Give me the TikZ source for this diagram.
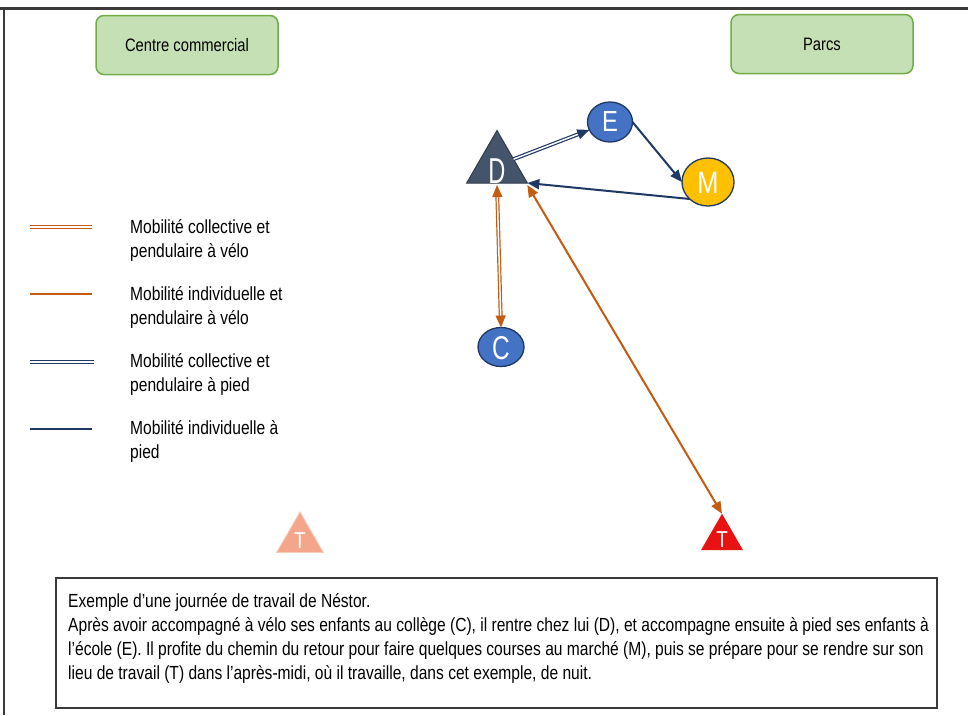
\documentclass[tikz,border=0pt]{standalone}
\usepackage{fontspec}
\usepackage{graphicx}
\setmainfont{Liberation Sans}[FakeStretch=0.82]
\usetikzlibrary{shapes.geometric,arrows.meta}
\definecolor{orng}{HTML}{C55A11}
\definecolor{navy}{HTML}{203864}
\definecolor{slate}{HTML}{44546A}
\definecolor{blu}{HTML}{4472C4}
\definecolor{gold}{HTML}{FFC000}
\definecolor{grnfill}{HTML}{C5E0B4}
\definecolor{grnline}{HTML}{70AD47}
\definecolor{tred}{HTML}{E81212}
\definecolor{salmon}{HTML}{F4A68B}
\definecolor{frame}{HTML}{3A3A3A}
\begin{document}
\begin{tikzpicture}[x=1pt,y=-1pt,
  txt/.style={font=\fontsize{19}{24}\selectfont, inner sep=0pt, align=left},
  place/.style={draw=grnline, line width=1.5pt, fill=grnfill, rounded corners=8pt, minimum width=182pt, minimum height=59pt, font=\fontsize{18}{24}\selectfont},
  tri/.style={regular polygon, regular polygon sides=3, inner sep=0pt, outer sep=0pt},
  circ/.style={ellipse, draw=navy, line width=1.3pt, inner sep=0pt, outer sep=0pt},
  lett/.style={text=white, font=\fontsize{29}{29}\selectfont, inner sep=0pt},
  tip/.style={-{Triangle[length=12pt,width=10pt]}},
  ttip/.style={{Triangle[length=12pt,width=10pt]}-{Triangle[length=12pt,width=10pt]}},
  dblorng/.style={draw=orng, double=white, double distance=1.5pt, line width=1.2pt},
  snglorng/.style={draw=orng, line width=2pt},
  dblnavy/.style={draw=navy, double=white, double distance=1.5pt, line width=1.2pt},
  snglnavy/.style={draw=navy, line width=2pt}]
\useasboundingbox (0,0) rectangle (968,715);
\fill[white] (0,0) rectangle (968,715);
% frame
\draw[frame, line width=3pt] (0,8) -- (968,8);
\draw[frame, line width=2pt] (4,8) -- (4,715);
% places
\node[place] (cc) at (187,45) {Centre commercial};
\node[place] (parcs) at (822,44) {Parcs};
% nodes
\node[tri, fill=slate, draw=slate!70!black, line width=1pt, minimum size=70pt] (D) at (497,165.5) {};
\node[lett, font=\fontsize{36}{36}\selectfont] (Dl) at (497,171) {\scalebox{0.8}[1]{D}};
\node[circ, fill=blu, minimum width=45pt, minimum height=40pt] (E) at (610,122) {};
\node[lett] (El) at (610,122) {E};
\node[circ, fill=gold, minimum width=52pt, minimum height=48pt] (M) at (708,182) {};
\node[lett, font=\fontsize{31}{31}\selectfont] (Ml) at (708,183) {M};
\node[circ, fill=blu, minimum width=46pt, minimum height=39pt] (C) at (501,347) {};
\node[lett, font=\fontsize{33}{33}\selectfont] (Cl) at (501,348) {\scalebox{0.9}[1]{C}};
\node[tri, fill=tred, minimum size=48.5pt] (T) at (722,538) {};
\node[lett, font=\fontsize{23}{23}\selectfont] (Tl) at (722,540) {T};
\node[tri, fill=salmon, draw=salmon!60!white, line width=0.8pt, minimum size=54pt] (T2) at (300,539) {};
\node[lett, font=\fontsize{23}{23}\selectfont] (T2l) at (300,541) {T};
% connectors
\draw[dblnavy, tip] (D) -- (E);
\draw[snglnavy, tip] (E.east) -- (M.west);
\draw[snglnavy, tip] (M.south west) -- (D.corner 3);
\draw[dblorng, ttip] ([yshift=-2pt]D.side 2) -- (C.north);
\draw[snglorng, ttip] ([yshift=-2pt]D.corner 3) -- (T.corner 1);
% legend
\coordinate (l1a) at (30,227); \coordinate (l1b) at (92,227);
\coordinate (l2a) at (30,294); \coordinate (l2b) at (92,294);
\coordinate (l3a) at (30,362); \coordinate (l3b) at (94,362);
\coordinate (l4a) at (30,429); \coordinate (l4b) at (92,429);
\draw[dblorng] (l1a) -- (l1b);
\draw[snglorng, line width=2.4pt] (l2a) -- (l2b);
\draw[dblnavy] (l3a) -- (l3b);
\draw[snglnavy, line width=2.4pt] (l4a) -- (l4b);
\node[txt, anchor=north west] (t1) at (130,219) {Mobilité collective et\\pendulaire à vélo};
\node[txt, anchor=north west] (t2) at (130,286) {Mobilité individuelle et\\pendulaire à vélo};
\node[txt, anchor=north west] (t3) at (130,353) {Mobilité collective et\\pendulaire à pied};
\node[txt, anchor=north west] (t4) at (130,420) {Mobilité individuelle à\\pied};
% text box
\draw[frame, line width=1.2pt] (56,578) rectangle (937,708);
\node[txt, anchor=north west] (desc) at (68,593) {Exemple d’une journée de travail de Néstor.\\
Après avoir accompagné à vélo ses enfants au collège (C), il rentre chez lui (D), et accompagne ensuite à pied ses enfants à\\
l’école (E). Il profite du chemin du retour pour faire quelques courses au marché (M), puis se prépare pour se rendre sur son\\
lieu de travail (T) dans l’après-midi, où il travaille, dans cet exemple, de nuit.};
\end{tikzpicture}
\end{document}
